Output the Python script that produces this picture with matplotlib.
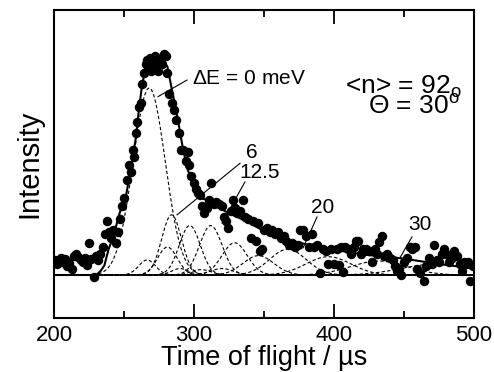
import numpy as np
import matplotlib
matplotlib.use("Agg")
import matplotlib.pyplot as plt

plt.rcParams['font.family'] = ['Liberation Sans', 'DejaVu Sans']
plt.rcParams['mathtext.fontset'] = 'custom'
plt.rcParams['mathtext.rm'] = 'Liberation Sans'
plt.rcParams['mathtext.it'] = 'Liberation Sans:italic'

# measured time-of-flight points (us) and intensity (arb. units)
t_data = [201, 202.5, 203.5, 205, 206.5, 208, 209.5, 211, 213, 214.5, 216, 217.5, 219, 220.5, 222, 223.5,
          225, 226.5, 228.5, 230, 231.5, 233, 235, 236.5, 238, 239.5, 241, 242.5, 244, 245.5, 247, 248.5,
          250, 252, 253.5, 255, 256.5, 257.5, 258.5, 259.5, 261, 262, 263, 264.5, 265.5, 266.5, 267.5,
          268.5, 269.5, 270.5, 271.5, 272.5, 273.5, 274.5, 275.5, 277, 278.5, 280, 281, 282.5, 284, 286,
          287.5, 289, 291, 292.5, 294, 295.5, 296.5, 298, 300, 301.5, 303, 304.5, 306, 307.5, 309, 311,
          312.5, 314, 316, 318, 320, 321.5, 323, 324.5, 326.5, 328, 329.5, 331, 333, 335, 336.5, 338.5,
          340.5, 342, 344, 345.5, 347, 348.5, 350, 352, 354, 356, 358, 360, 362, 364, 366, 368, 370, 372,
          374, 376, 378, 380, 382, 384, 386, 388, 390, 392, 394, 396, 398, 400, 402, 403.5, 405, 406.5,
          408, 410, 412, 414, 416, 417.5, 419, 421, 423, 425, 427, 429, 431, 432.5, 434.5, 436, 438, 440,
          442, 443.5, 445, 446.5, 448, 450, 452, 454, 456, 458, 459.5, 461.5, 464, 466, 468, 470, 471.5,
          473.5, 475, 477, 478.5, 480, 482, 484, 486, 488, 490, 491.5, 493, 494.5, 496, 497.5, 499]
i_data = [0.07, 0.05, 0.065, 0.08, 0.06, 0.075, 0.04, 0.055, 0.03, 0.09, 0.10, 0.085, 0.07, 0.06, 0.08, 0.045,
          0.15, 0.075, -0.01, 0.09, 0.07, 0.10, 0.13, 0.19, 0.25, 0.20, 0.17, 0.21, 0.15, 0.20, 0.26, 0.32,
          0.36, 0.44, 0.51, 0.48, 0.58, 0.55, 0.66, 0.71, 0.78, 0.80, 0.89, 0.94, 0.98, 1.00, 0.96,
          1.01, 0.95, 0.99, 0.96, 1.02, 0.97, 0.95, 1.00, 0.98, 1.03, 1.02, 0.94, 0.84, 0.80, 0.77,
          0.72, 0.66, 0.58, 0.58, 0.53, 0.57, 0.51, 0.46, 0.43, 0.40, 0.38, 0.37, 0.32, 0.29, 0.31, 0.35,
          0.43, 0.33, 0.34, 0.33, 0.32, 0.27, 0.25, 0.22, 0.30, 0.35, 0.31, 0.29, 0.30, 0.35, 0.27, 0.26,
          0.17, 0.25, 0.16, 0.24, 0.11, 0.12, 0.21, 0.22, 0.20, 0.21, 0.19, 0.20, 0.17, 0.18, 0.16, 0.14, 0.15, 0.13,
          0.14, 0.21, 0.21, 0.18, 0.13, 0.19, 0.13, 0.14, 0.01, 0.12, 0.11, 0.05, 0.12, 0.05, 0.12, 0.045, 0.13, 0.015,
          0.13, 0.12, 0.10, 0.13, 0.16, 0.16, 0.10, 0.12, 0.12, 0.11, 0.06, 0.12, 0.10, 0.155, 0.18, 0.09, 0.10, 0.08,
          0.07, 0.04, 0.02, 0.03, 0.00, 0.06, 0.08, 0.13, 0.12, 0.13, 0.03, 0.01, -0.03, 0.04, 0.08, 0.05, 0.14,
          0.07, 0.06, 0.10, 0.12, 0.10, 0.06, 0.08, 0.11, 0.09, 0.05, 0.02, 0.06, 0.05, 0.06, -0.03, 0.04]

# total fit curve
fit_t = [200, 229, 231, 233.5, 236, 239, 243, 246, 249, 251.5, 255, 258.5, 260.5, 263, 266, 268.5, 271,
         276, 281, 284, 288, 291.5, 295, 300, 305, 310, 315, 324, 336, 348.5, 363, 377, 391, 403,
         424, 448, 472, 500]
fit_i = [0.0, 0.0, 0.005, 0.02, 0.045, 0.12, 0.19, 0.27, 0.33, 0.37, 0.50, 0.64, 0.76, 0.89, 0.97, 1.0, 1.01,
         1.01, 0.97, 0.87, 0.74, 0.61, 0.50, 0.41, 0.36, 0.345, 0.325, 0.29, 0.255, 0.21, 0.17, 0.148, 0.125, 0.114,
         0.093, 0.078, 0.054, 0.03]

# dashed fit components: centre (us), height, width (us)
comp_center = [268, 266.5, 281, 284, 297, 312, 329, 290, 305, 320, 346, 367, 396, 432, 472]
comp_height = [0.87, 0.07, 0.13, 0.28, 0.23, 0.23, 0.15, 0.03, 0.025, 0.03, 0.09, 0.12, 0.085, 0.065, 0.05]
comp_width = [11.5, 6, 7, 7, 7.5, 8, 9, 6, 7, 8, 11, 13, 16, 20, 24]

fig = plt.figure(figsize=(4.94, 3.72), dpi=100)
ax = fig.add_axes([0.1093, 0.1452, 0.8502, 0.8279])

t = np.linspace(200, 500, 601)
for c, h, w in zip(comp_center, comp_height, comp_width):
    ax.plot(t, h * np.exp(-(t - c) ** 2 / (2 * w ** 2)), color='black', lw=0.8, dashes=(3, 2))

ax.axhline(0, color='black', lw=1.3)
ax.plot(fit_t, fit_i, color='black', lw=1.5)
ax.plot(t_data, i_data, 'o', color='black', ms=5.8, mec='black')

# labels of the energy loss components
ax.text(298.6, 0.916, r'$\Delta$E = 0 meV', fontsize=15, va='center', ha='left')
ax.plot([274.3, 295], [0.83, 0.907], color='black', lw=0.8)
ax.text(341.4, 0.572, '6', fontsize=15, va='center', ha='center')
ax.plot([287.9, 332.9], [0.28, 0.52], color='black', lw=0.8)
ax.text(347, 0.479, '12.5', fontsize=15, va='center', ha='center')
ax.plot([320, 336.4], [0.242, 0.433], color='black', lw=0.8)
ax.text(392, 0.316, '20', fontsize=15, va='center', ha='center')
ax.plot([377.9, 387.9], [0.126, 0.27], color='black', lw=0.8)
ax.text(461.4, 0.233, '30', fontsize=15, va='center', ha='center')
ax.plot([447, 455.7], [0.079, 0.177], color='black', lw=0.8)

ax.text(491.0, 0.83, '<n> = 92$_{\\rm o}$\n\u0398 = 30$^{\\rm o}$ ', fontsize=19,
        va='center', ha='right', multialignment='right', linespacing=0.72)

ax.set_xlim(200, 500)
ax.set_ylim(-0.2, 1.233)
ax.set_xticks([200, 300, 400, 500])
ax.set_xticks([250, 350, 450], minor=True)
ax.set_yticks([])
ax.tick_params(axis='x', which='major', direction='in', length=10, width=1.3, top=True,
               labelsize=16, pad=5)
ax.tick_params(axis='x', which='minor', direction='in', length=5, width=1.3, top=True)
for s in ax.spines.values():
    s.set_linewidth(1.5)

ax.set_xlabel('Time of flight / \u00b5s', fontsize=19.5, labelpad=-1)
ax.set_ylabel('Intensity', fontsize=21, labelpad=8)

fig.savefig('out.png', dpi=100)
